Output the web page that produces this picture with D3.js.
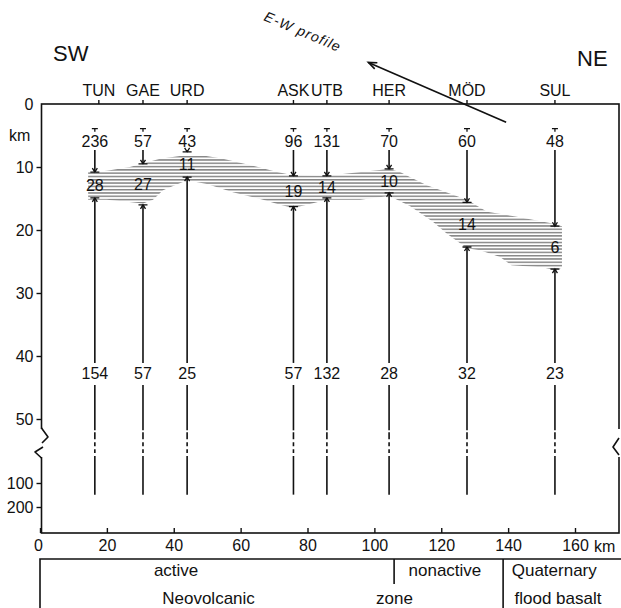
<!DOCTYPE html>
<html>
<head>
<meta charset="utf-8">
<script src="https://cdn.jsdelivr.net/npm/d3@7"></script>
<style>
  body { margin: 0; background: #fff; }
  svg text { font-family: "Liberation Sans", Arial, sans-serif; fill: #111; }
</style>
</head>
<body>
<div id="chart"></div>
<script>
// Stations along the profile (distance in km)
const stations = ["TUN", "GAE", "URD", "ASK", "UTB", "HER", "MÖD", "SUL"];
const stationKm = [16.4, 30.8, 44.0, 75.8, 85.8, 104.4, 127.7, 154.0];

// Number of events above / inside / below the layer
const eventsUpper = [236, 57, 43, 96, 131, 70, 60, 48];
const eventsLayer = [28, 27, 11, 19, 14, 10, 14, 6];
const eventsLower = [154, 57, 25, 57, 132, 28, 32, 23];

// Layer top / bottom depth (km) at each station
const layerTopAtStation = [10.8, 9.5, 7.6, 11.4, 11.4, 10.3, 15.6, 19.4];
const layerBottomAtStation = [14.9, 16.0, 11.6, 16.3, 14.9, 14.1, 22.7, 26.2];

// Outline of the hatched layer [km, depth]
const layerTopEdge = [[14.4, 10.8], [16.1, 10.8], [20.0, 10.6], [26.9, 10.0], [35.9, 8.7], [44.0, 8.1],
  [49.3, 8.2], [54.7, 8.7], [65.2, 10.0], [70.9, 10.8], [75.7, 11.3], [85.8, 11.4], [96.0, 10.8],
  [104.4, 10.3], [107.7, 10.8], [110.6, 11.6], [115.7, 12.9], [127.7, 15.2], [133.7, 17.1],
  [142.6, 17.9], [152.5, 18.9], [156.1, 19.4]];
const layerBottomEdge = [[156.1, 26.0], [154.0, 26.3], [150.0, 25.9], [141.0, 25.6], [137.6, 24.3],
  [131.6, 23.2], [127.7, 22.9], [121.7, 20.6], [117.5, 18.7], [110.6, 16.2], [106.8, 15.2],
  [104.4, 14.6], [95.7, 15.2], [85.8, 15.2], [79.8, 16.0], [75.7, 16.5], [71.8, 16.0], [66.7, 15.2],
  [57.7, 14.0], [49.9, 12.7], [44.0, 12.1], [39.8, 13.0], [36.8, 13.7], [33.8, 15.2], [30.8, 15.8],
  [26.0, 15.5], [20.0, 15.2], [14.4, 15.2]];

// Axes
const distTicks = [0, 20, 40, 60, 80, 100, 120, 140, 160];
const depthTicks = [0, 10, 20, 30, 40, 50];
const deepTicks = [100, 200];

// Zone boxes below the profile
const zoneDividersKm = [105.9, 138.5];
const zoneLabels = [
  {text: "active", km: 40.7, row: 0},
  {text: "nonactive", km: 121.1, row: 0},
  {text: "Quaternary", km: 153.8, row: 0},
  {text: "Neovolcanic", km: 50.4, row: 1},
  {text: "zone", km: 106.0, row: 1},
  {text: "flood basalt", km: 154.9, row: 1}
];

const width = 621, height = 608;

const svg = d3.select("#chart").append("svg")
  .attr("width", width)
  .attr("height", height);

const x = d3.scaleLinear().domain([0, 160]).range([40, 575]);
const y = d3.scaleLinear().domain([0, 50]).range([104, 419]);
const yDeep = d3.scaleLog().domain([100, 200]).range([483, 507]);

const axisX = x(0) + 1.5;
const frameR = 619;
const frameT = y(0);
const frameB = 533;
const lineW = 1.6;
const ink = "#111";

const defs = svg.append("defs");

// Frame: one rectangle, clipped where the depth axis is broken
const clip = defs.append("clipPath").attr("id", "frameClip");
clip.append("rect").attr("x", 0).attr("y", 0).attr("width", width).attr("height", 429);
clip.append("rect").attr("x", 0).attr("y", 457).attr("width", width).attr("height", height - 457);

const frameG = svg.append("g");
frameG.append("rect")
  .attr("x", axisX).attr("y", frameT)
  .attr("width", frameR - axisX).attr("height", frameB - frameT)
  .attr("fill", "none").attr("stroke", ink).attr("stroke-width", lineW)
  .attr("clip-path", "url(#frameClip)");
const breakSegs = [
  [[axisX, 428], [48, 437], [42, 443]],
  [[43, 447], [35, 452], [axisX, 458]],
  [[frameR, 438], [613, 447], [frameR, 455]]
];
frameG.selectAll("path")
  .data(breakSegs)
  .join("path")
  .attr("d", d => d3.line()(d))
  .attr("fill", "none")
  .attr("stroke", ink)
  .attr("stroke-width", lineW)
  .attr("stroke-linejoin", "round");

// Hatch pattern
const pat = defs.append("pattern")
  .attr("id", "hatch")
  .attr("patternUnits", "userSpaceOnUse")
  .attr("width", 8).attr("height", 3.3);
pat.append("line")
  .attr("x1", 0).attr("x2", 8).attr("y1", 1.6).attr("y2", 1.6)
  .attr("stroke", "#333").attr("stroke-width", 0.9);

const outline = layerTopEdge.concat(layerBottomEdge);
const layerLine = d3.line().x(d => x(d[0])).y(d => y(d[1])).curve(d3.curveLinearClosed);
svg.append("path")
  .attr("d", layerLine(outline))
  .attr("fill", "url(#hatch)");

// Bottom axis
const xAxis = d3.axisBottom(x).tickValues(distTicks).tickSize(-5).tickPadding(7)
  .tickFormat(d => d);
const gx = svg.append("g")
  .attr("transform", `translate(0,${frameB})`)
  .call(xAxis);
gx.select(".domain").remove();
gx.selectAll(".tick line").attr("stroke", ink).attr("stroke-width", 1.4);
gx.selectAll(".tick text").attr("font-size", 16).attr("font-family", "Liberation Sans, Arial, sans-serif");
gx.selectAll(".tick").filter(d => d === 0).select("text").attr("dx", -2);
svg.append("text")
  .attr("x", x(160) + 19).attr("y", frameB + 19)
  .attr("font-size", 16).text("km");

// Left axis
const yAxis = d3.axisLeft(y).tickValues(depthTicks).tickSize(5).tickPadding(3);
const gy = svg.append("g").attr("transform", `translate(${axisX},0)`).call(yAxis);
const yAxisDeep = d3.axisLeft(yDeep).tickValues(deepTicks).tickSize(5).tickPadding(3).tickFormat(d => d);
const gy2 = svg.append("g").attr("transform", `translate(${axisX},0)`).call(yAxisDeep);
[gy, gy2].forEach(g => {
  g.select(".domain").remove();
  g.selectAll(".tick line").attr("stroke", ink).attr("stroke-width", 1.4);
  g.selectAll(".tick text").attr("font-size", 16).attr("font-family", "Liberation Sans, Arial, sans-serif");
});
gy.selectAll(".tick").filter(d => d === 0).select("line").remove();
svg.append("text")
  .attr("x", 9).attr("y", y(5.8))
  .attr("font-size", 16).text("km");

// Station names and top ticks
const nameGroup = svg.append("g");
nameGroup.selectAll("text.name")
  .data(stations)
  .join("text")
  .attr("class", "name")
  .attr("x", (d, i) => x(stationKm[i]) + (i === 0 ? 4 : 0))
  .attr("y", frameT - 8)
  .attr("text-anchor", "middle")
  .attr("font-size", 16)
  .text(d => d);
nameGroup.selectAll("line.tick")
  .data(stations)
  .join("line")
  .attr("class", "tick")
  .attr("x1", (d, i) => x(stationKm[i]) + (i === 0 ? 4 : 0))
  .attr("x2", (d, i) => x(stationKm[i]) + (i === 0 ? 4 : 0))
  .attr("y1", frameT - 4).attr("y2", frameT)
  .attr("stroke", ink).attr("stroke-width", 1.4);

// Station columns
const col = svg.selectAll("g.station")
  .data(stations)
  .join("g")
  .attr("class", "station")
  .attr("transform", (d, i) => `translate(${x(stationKm[i])},0)`);

// small tee marker above the upper count
col.append("path")
  .attr("d", `M-3,${y(3.9)}H3M0,${y(3.9)}V${y(4.4)}`)
  .attr("stroke", ink).attr("stroke-width", 1.3).attr("fill", "none");

col.append("text")
  .attr("y", y(5.85)).attr("dy", "0.36em")
  .attr("text-anchor", "middle").attr("font-size", 16)
  .text((d, i) => eventsUpper[i]);

// upper line down to the layer top
col.append("line")
  .attr("y1", y(7.3))
  .attr("y2", (d, i) => Math.max(y(7.3), y(layerTopAtStation[i])))
  .attr("stroke", ink).attr("stroke-width", lineW);

// layer top marker: arrowhead onto a bar
col.append("path")
  .attr("d", (d, i) => {
    const yy = y(layerTopAtStation[i]);
    return `M-4.5,${yy}H4.5M-2.5,${yy - 4}L0,${yy}L2.5,${yy - 4}`;
  })
  .attr("stroke", ink).attr("stroke-width", 1.3).attr("fill", "none");

col.append("text")
  .attr("y", (d, i) => y((layerTopAtStation[i] + layerBottomAtStation[i]) / 2))
  .attr("dy", "0.36em")
  .attr("text-anchor", "middle").attr("font-size", 16)
  .text((d, i) => eventsLayer[i]);

// layer bottom marker
col.append("path")
  .attr("d", (d, i) => {
    const yy = y(layerBottomAtStation[i]);
    return `M-4.5,${yy}H4.5M-2.5,${yy + 4}L0,${yy}L2.5,${yy + 4}`;
  })
  .attr("stroke", ink).attr("stroke-width", 1.3).attr("fill", "none");

// line down to the lower count
col.append("line")
  .attr("y1", (d, i) => y(layerBottomAtStation[i]))
  .attr("y2", y(41.1))
  .attr("stroke", ink).attr("stroke-width", lineW);

col.append("text")
  .attr("y", y(42.8)).attr("dy", "0.36em")
  .attr("text-anchor", "middle").attr("font-size", 16)
  .text((d, i) => eventsLower[i]);

col.append("line")
  .attr("y1", y(44.6)).attr("y2", y(51.8))
  .attr("stroke", ink).attr("stroke-width", lineW);

// broken part of the depth axis
col.append("line")
  .attr("y1", y(52.1)).attr("y2", yDeep(100) - 30)
  .attr("stroke", ink).attr("stroke-width", lineW)
  .attr("stroke-dasharray", "7,3,4,3");

col.append("line")
  .attr("y1", yDeep(100) - 27).attr("y2", yDeep(140))
  .attr("stroke", ink).attr("stroke-width", lineW);

// Compass labels
svg.append("text").attr("x", 53).attr("y", 61).attr("font-size", 22).text("SW");
svg.append("text").attr("x", 577).attr("y", 66).attr("font-size", 22).text("NE");

// Profile arrow
const arrowFrom = [139.4, 2.9], arrowTo = [98.2, -6.6];
const ax1 = x(arrowFrom[0]), ay1 = y(arrowFrom[1]);
const ax2 = x(arrowTo[0]), ay2 = y(arrowTo[1]);
const ang = Math.atan2(ay2 - ay1, ax2 - ax1);
svg.append("line")
  .attr("x1", ax1).attr("y1", ay1).attr("x2", ax2).attr("y2", ay2)
  .attr("stroke", ink).attr("stroke-width", 1.6);
const ah = 9, aw = 0.38;
svg.append("path")
  .attr("d", d3.line()([
    [ax2 - ah * Math.cos(ang - aw), ay2 - ah * Math.sin(ang - aw)],
    [ax2, ay2],
    [ax2 - ah * Math.cos(ang + aw), ay2 - ah * Math.sin(ang + aw)]]))
  .attr("stroke", ink).attr("stroke-width", 1.6).attr("fill", "none");
svg.append("text")
  .attr("transform", "translate(263,20) rotate(23)")
  .attr("font-size", 14).attr("font-style", "italic")
  .attr("letter-spacing", 1.2)
  .text("E-W profile");

// Zone box
const boxTop = 559;
const box = svg.append("g").attr("stroke", ink).attr("stroke-width", lineW).attr("fill", "none");
box.append("path").attr("d", d3.line()([[x(0), height], [x(0), boxTop], [width, boxTop]]));
box.append("line")
  .attr("x1", x(zoneDividersKm[0])).attr("x2", x(zoneDividersKm[0]))
  .attr("y1", boxTop).attr("y2", 584);
box.append("line")
  .attr("x1", x(zoneDividersKm[1])).attr("x2", x(zoneDividersKm[1]))
  .attr("y1", boxTop).attr("y2", height);

svg.selectAll("text.zone")
  .data(zoneLabels)
  .join("text")
  .attr("class", "zone")
  .attr("x", d => x(d.km))
  .attr("y", d => d.row === 0 ? 576 : 604)
  .attr("text-anchor", "middle")
  .attr("font-size", 17)
  .text(d => d.text);
</script>
</body>
</html>
